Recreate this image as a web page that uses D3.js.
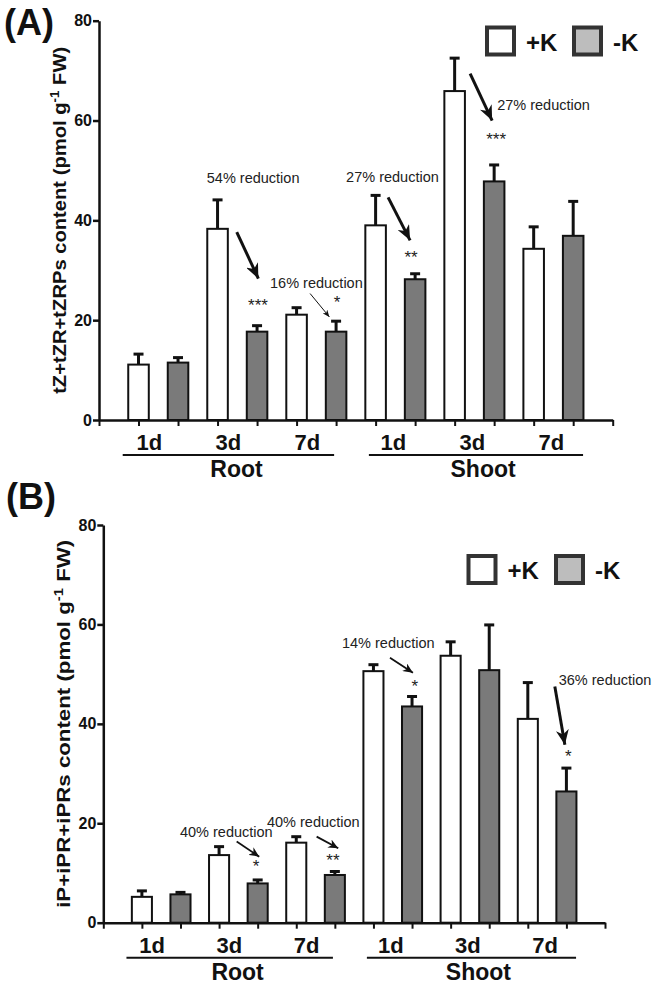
<!DOCTYPE html>
<html><head><meta charset="utf-8">
<script src="https://cdn.jsdelivr.net/npm/d3@7"></script>
<style>
html,body{margin:0;padding:0;background:#fff;}
svg{display:block;font-family:"Liberation Sans",Arial,sans-serif;}
</style></head>
<body>
<svg id="chart" width="658" height="992"></svg>
<script>
// ---------- data ----------
const organs = ["Root", "Shoot"];
const days = ["1d", "3d", "7d"];
const series = ["+K", "-K"];
const yTicks = [0, 20, 40, 60, 80];

// Panel A: tZ+tZR+tZRPs
const A_plusK      = [11.1, 38.3, 21.1, 39.0, 65.9, 34.3];
const A_plusK_err  = [2.1, 5.8, 1.4, 6.0, 6.6, 4.4];
const A_minusK     = [11.5, 17.7, 17.7, 28.2, 47.8, 36.9];
const A_minusK_err = [1.0, 1.2, 2.1, 1.1, 3.3, 6.9];

// Panel B: iP+iPR+iPRs
const B_plusK      = [5.2, 13.6, 16.1, 50.6, 53.7, 41.0];
const B_plusK_err  = [1.2, 1.7, 1.2, 1.3, 2.8, 7.3];
const B_minusK     = [5.7, 7.9, 9.6, 43.5, 50.8, 26.4];
const B_minusK_err = [0.4, 0.7, 0.7, 2.0, 9.1, 4.7];

// annotations (data space: s = slot on x, v = value on y)
const A_notes = [
  {t:"54% reduction", s:2.727, v:47.5},
  {t:"16% reduction", s:4.329, v:26.4},
  {t:"27% reduction", s:6.253, v:47.66},
  {t:"27% reduction", s:10.076, v:62.2}
];
const A_arrows = [
  {s0:3.486, v0:37.66, s1:4.033, v1:28.34, w:"thick"},
  {s0:5.342, v0:25.34, s1:5.830, v1:20.66, w:"thin"},
  {s0:7.316, v0:44.6,  s1:7.873, v1:36.0,  w:"thick"},
  {s0:9.392, v0:69.4,  s1:9.949, v1:60.0,  w:"thick"}
];
const A_stars = [
  {t:"***", s:4.025, v:23.66},
  {t:"*",   s:6.025, v:24.4},
  {t:"**",  s:7.899, v:33.4},
  {t:"***", s:10.05, v:57.0}
];
const B_notes = [
  {t:"40% reduction", s:1.987, v:17.32},
  {t:"40% reduction", s:4.241, v:19.27},
  {t:"14% reduction", s:6.184, v:55.3},
  {t:"36% reduction", s:11.80, v:47.9}
];
const B_arrows = [
  {s0:3.456, v0:16.31, s1:4.041, v1:13.29, w:"med"},
  {s0:5.528, v0:17.32, s1:6.088, v1:14.98, w:"med"},
  {s0:7.428, v0:53.3,  s1:8.023, v1:50.28, w:"med"},
  {s0:11.70, v0:47.52, s1:11.96, v1:35.78, w:"thick"}
];
const B_stars = [
  {t:"*",  s:3.956, v:12.02},
  {t:"**", s:5.951, v:13.29},
  {t:"*",  s:8.075, v:48.33},
  {t:"*",  s:12.05, v:34.17}
];

// ---------- drawing ----------
const svg = d3.select("#chart");
const FONT = '"Liberation Sans",Arial,sans-serif';

const defs = svg.append("defs");
const arrowStyles = {
  thick: {sw:3,   len:15, wid:13},
  med:   {sw:1.8, len:10, wid:9},
  thin:  {sw:1,   len:7,  wid:6}
};
Object.entries(arrowStyles).forEach(([k, st]) => {
  defs.append("marker").attr("id", "ah-" + k)
    .attr("markerUnits", "userSpaceOnUse")
    .attr("viewBox", `0 ${-st.wid/2} ${st.len} ${st.wid}`)
    .attr("refX", st.len).attr("refY", 0)
    .attr("markerWidth", st.len).attr("markerHeight", st.wid)
    .attr("orient", "auto")
    .append("path")
    .attr("d", `M0,${-st.wid/2}L${st.len},0L0,${st.wid/2}L${st.len*0.3},0Z`)
    .attr("fill", "#111");
});

function panel(cfg) {
  const g = svg.append("g");
  const x = d3.scaleLinear().domain([0, 13]).range([cfg.left, cfg.right]);
  const y = d3.scaleLinear().domain([0, 80]).range([cfg.bottom, cfg.top]);
  const step = x(1) - x(0);
  const bw = step * 0.52;

  // bars
  const bars = [];
  cfg.plus.forEach((v, i) => {
    bars.push({slot: 2*i+1, v, e: cfg.plusErr[i], ser: "+K"});
    bars.push({slot: 2*i+2, v: cfg.minus[i], e: cfg.minusErr[i], ser: "-K"});
  });
  // error bars (behind)
  const eg = g.append("g");
  eg.selectAll("line.ev").data(bars).join("line")
    .attr("x1", d => x(d.slot)).attr("x2", d => x(d.slot))
    .attr("y1", d => y(d.v)).attr("y2", d => y(d.v + d.e))
    .attr("stroke", "#111").attr("stroke-width", 3);
  eg.selectAll("line.ec").data(bars).join("line")
    .attr("x1", d => x(d.slot) - 5).attr("x2", d => x(d.slot) + 5)
    .attr("y1", d => y(d.v + d.e)).attr("y2", d => y(d.v + d.e))
    .attr("stroke", "#111").attr("stroke-width", 3);
  g.append("g").selectAll("rect").data(bars).join("rect")
    .attr("x", d => x(d.slot) - bw/2).attr("width", bw)
    .attr("y", d => y(d.v)).attr("height", d => y(0) - y(d.v))
    .attr("fill", d => d.ser === "+K" ? "#ffffff" : "#7a7a7a")
    .attr("stroke", "#111").attr("stroke-width", 2);

  // y axis
  const ya = g.append("g").attr("transform", `translate(${cfg.left},0)`)
    .call(d3.axisLeft(y).tickValues(yTicks).tickSize(6).tickSizeOuter(0).tickPadding(1));
  ya.select(".domain").attr("stroke", "#111").attr("stroke-width", 2.5);
  ya.selectAll(".tick line").attr("stroke", "#111").attr("stroke-width", 2.5);
  ya.selectAll(".tick text").attr("font-family", FONT).attr("font-size", 16)
    .attr("font-weight", "bold").attr("fill", "#111");

  // x axis
  const xa = g.append("g").attr("transform", `translate(0,${cfg.bottom})`)
    .call(d3.axisBottom(x).tickValues(d3.range(0, 14)).tickSize(6).tickSizeOuter(0).tickFormat(""));
  xa.select(".domain").attr("stroke", "#111").attr("stroke-width", 2.5);
  xa.selectAll(".tick line").attr("stroke", "#111").attr("stroke-width", 2);

  // group labels
  const labY = cfg.bottom + 30;
  organs.forEach((org, oi) => {
    days.forEach((dd, di) => {
      const gi = oi*3 + di;
      const cx = (x(2*gi+1) + x(2*gi+2)) / 2 + (org === "Root" ? -9 : -2);
      g.append("text").attr("x", cx).attr("y", labY)
        .attr("text-anchor", "middle").attr("font-family", FONT)
        .attr("font-size", 22).attr("font-weight", "bold").attr("fill", "#111").text(dd);
    });
    const s0 = oi === 0 ? 0.6 : 6.83, s1 = oi === 0 ? 5.95 : 12.25;
    g.append("line").attr("x1", x(s0)).attr("x2", x(s1))
      .attr("y1", labY + 5).attr("y2", labY + 5)
      .attr("stroke", "#111").attr("stroke-width", 2);
    const ocx = oi === 0 ? x(3.48) : x(9.72);
    g.append("text").attr("x", ocx).attr("y", labY + 27)
      .attr("text-anchor", "middle").attr("font-family", FONT)
      .attr("font-size", 23).attr("font-weight", "bold").attr("fill", "#111").text(org);
  });

  // y label
  const ymid = (cfg.top + cfg.bottom) / 2;
  const yl = g.append("text")
    .attr("transform", `translate(${cfg.left - 33},${ymid}) rotate(-90)`)
    .attr("text-anchor", "middle").attr("font-family", FONT)
    .attr("font-size", 18).attr("font-weight", "bold").attr("fill", "#111")
    .attr("textLength", cfg.ylabLen).attr("lengthAdjust", "spacingAndGlyphs");
  yl.append("tspan").text(cfg.ylab + " content (pmol g");
  yl.append("tspan").attr("dy", -7).attr("font-size", 12).text("-1");
  yl.append("tspan").attr("dy", 7).text(" FW)");

  // panel letter
  g.append("text").attr("x", cfg.letterX).attr("y", cfg.letterY)
    .attr("font-family", FONT).attr("font-size", 36).attr("font-weight", "bold")
    .attr("fill", "#111").text(cfg.letter);

  // legend
  const lg = g.append("g");
  series.forEach((s, i) => {
    const bx = cfg.legX + i * cfg.legGap;
    lg.append("rect").attr("x", bx + 2).attr("y", cfg.legY + 2)
      .attr("width", 27).attr("height", 27)
      .attr("fill", s === "+K" ? "#fff" : "#bdbdbd")
      .attr("stroke", "#333").attr("stroke-width", 4);
    lg.append("text").attr("x", bx + 41).attr("y", cfg.legY + 25)
      .attr("font-family", FONT).attr("font-size", 24).attr("font-weight", "bold")
      .attr("fill", "#111").text(s);
  });

  // annotation texts
  g.append("g").selectAll("text").data(cfg.notes).join("text")
    .attr("x", d => x(d.s)).attr("y", d => y(d.v))
    .attr("font-family", FONT).attr("font-size", 14.5).attr("fill", "#222")
    .text(d => d.t);
  // arrows
  g.append("g").selectAll("line").data(cfg.arrows).join("line")
    .attr("x1", d => x(d.s0)).attr("y1", d => y(d.v0))
    .attr("x2", d => x(d.s1)).attr("y2", d => y(d.v1))
    .attr("stroke", "#111").attr("stroke-width", d => arrowStyles[d.w].sw)
    .attr("marker-end", d => `url(#ah-${d.w})`);
  // stars
  g.append("g").selectAll("text").data(cfg.stars).join("text")
    .attr("x", d => x(d.s)).attr("y", d => y(d.v) + 9.5)
    .attr("text-anchor", "middle")
    .attr("font-family", FONT).attr("font-size", 17).attr("fill", "#222")
    .text(d => d.t);
}

panel({
  left: 99, right: 612.7, top: 20.7, bottom: 420,
  plus: A_plusK, plusErr: A_plusK_err, minus: A_minusK, minusErr: A_minusK_err,
  ylab: "tZ+tZR+tZRPs", ylabLen: 347,
  letter: "(A)", letterX: 4, letterY: 35,
  legX: 485, legY: 25.5, legGap: 87,
  notes: A_notes, arrows: A_arrows, stars: A_stars
});
panel({
  left: 103.3, right: 605, top: 525, bottom: 922.7,
  plus: B_plusK, plusErr: B_plusK_err, minus: B_minusK, minusErr: B_minusK_err,
  ylab: "iP+iPR+iPRs", ylabLen: 368,
  letter: "(B)", letterX: 6, letterY: 509,
  legX: 466.5, legY: 554, legGap: 87.5,
  notes: B_notes, arrows: B_arrows, stars: B_stars
});
</script>
</body></html>
